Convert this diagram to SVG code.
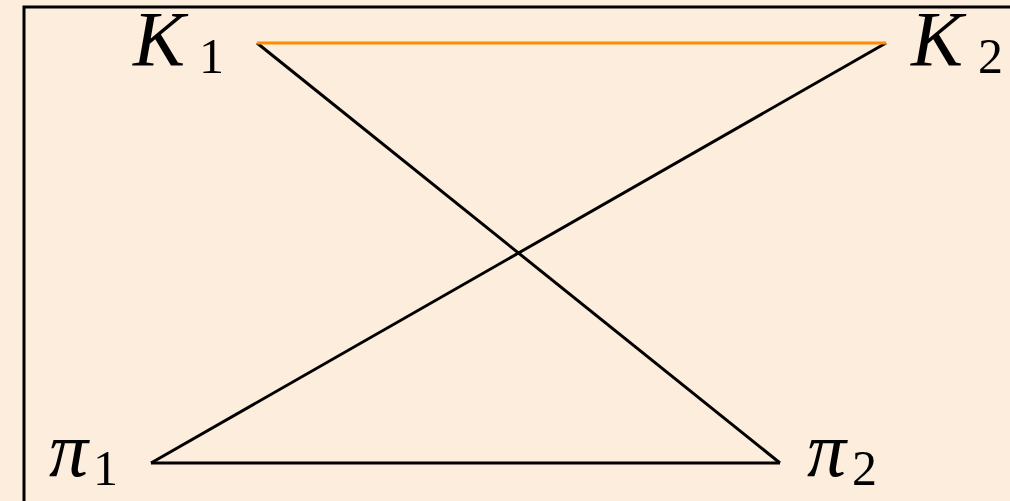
<svg xmlns="http://www.w3.org/2000/svg" width="1010" height="501" viewBox="0 0 1010 501">
<style>
.lbl{font-family:"Liberation Serif","DejaVu Serif",serif;fill:#000}
.main{font-style:italic;font-size:78px}
.sub{font-size:50px}
.edge{stroke:#000;stroke-width:3;fill:none}
</style>
<rect x="0" y="0" width="1010" height="501" fill="#FDEDDC"/>
<rect x="24" y="7" width="1000" height="510" fill="none" stroke="#000" stroke-width="3"/>
<g id="connectors">
<line class="edge" x1="257" y1="43" x2="780" y2="463"/>
<line class="edge" x1="886" y1="43" x2="151" y2="463"/>
<line class="edge" x1="151" y1="463" x2="780" y2="463"/>
<line x1="257" y1="43" x2="886" y2="43" stroke="#FF8C00" stroke-width="3"/>
</g>
<g id="K1"><text class="lbl" x="133" y="65"><tspan class="main">K</tspan><tspan class="sub" x="199" y="73">1</tspan></text></g>
<g id="K2"><text class="lbl" x="911" y="65"><tspan class="main">K</tspan><tspan class="sub" x="978" y="73">2</tspan></text></g>
<g id="pi1"><text class="lbl" x="49" y="476"><tspan class="main">π</tspan><tspan class="sub" x="93" y="485">1</tspan></text></g>
<g id="pi2"><text class="lbl" x="807" y="476"><tspan class="main">π</tspan><tspan class="sub" x="852" y="485">2</tspan></text></g>
</svg>
